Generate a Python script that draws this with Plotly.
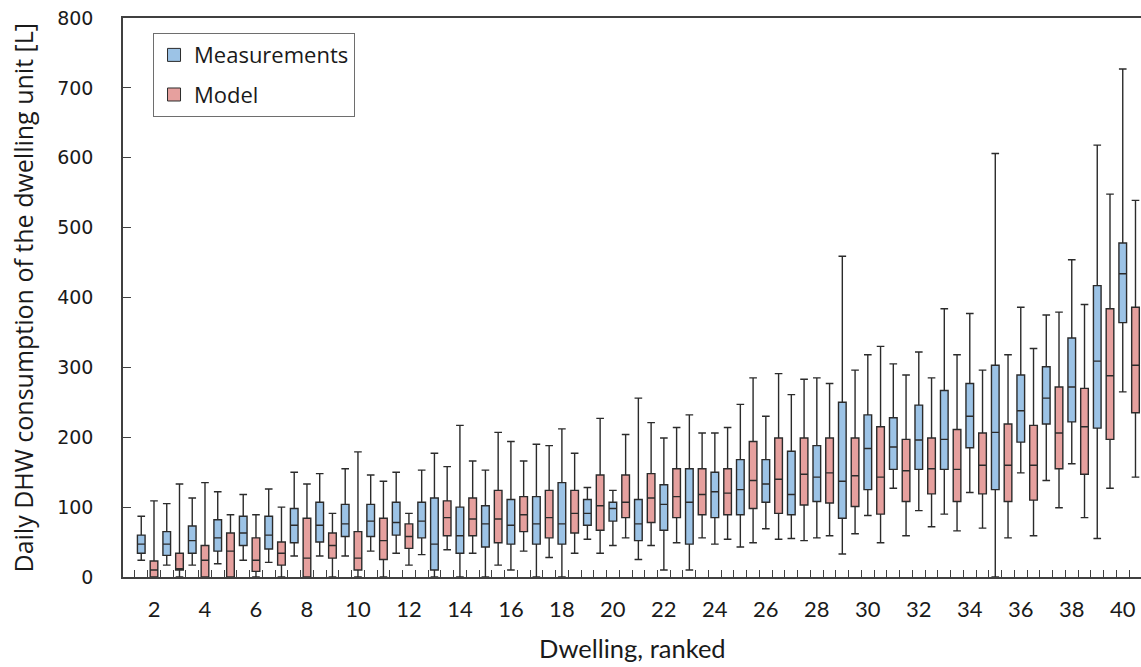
import plotly.graph_objects as go

# ---------------- data (L/day) ----------------
# rank positions of the boxes along the "Dwelling, ranked" axis
meas_pos = [1.5, 2.5, 3.5, 4.5, 5.5, 6.5, 7.5, 8.5, 9.5, 10.5, 11.5, 12.5,
            13, 14, 15, 16, 17, 18, 19, 20, 21, 22, 23, 24, 25, 26, 27, 28,
            29, 30, 31, 32, 33, 34, 35, 36, 37, 38, 39, 40]
model_pos = [2, 3, 4, 5, 6, 7, 8, 9, 10, 11, 12,
             13.5, 14.5, 15.5, 16.5, 17.5, 18.5, 19.5, 20.5, 21.5, 22.5, 23.5,
             24.5, 25.5, 26.5, 27.5, 28.5, 29.5, 30.5, 31.5, 32.5, 33.5, 34.5,
             35.5, 36.5, 37.5, 38.5, 39.5, 40.5]

# Measurements
meas_max = [87, 105, 113, 122, 118, 126, 150, 148, 155, 146, 150, 153,
            177, 217, 153, 194, 190, 212, 128, 124, 256, 199, 232, 206, 247, 230,
            261, 285, 459, 318, 305, 322, 384, 377, 606, 386, 375, 454, 618, 727]
meas_q3 = [60, 65, 73, 82, 87, 87, 98, 107, 104, 104, 107, 107,
           113, 100, 102, 111, 115, 135, 111, 107, 111, 132, 155, 150, 168, 168,
           180, 188, 250, 232, 228, 246, 267, 277, 303, 289, 301, 342, 417, 478]
meas_med = [47, 47, 52, 56, 63, 60, 74, 74, 76, 80, 78, 80,
            47, 59, 76, 74, 76, 76, 91, 98, 76, 104, 107, 122, 125, 133,
            118, 143, 137, 184, 186, 196, 197, 230, 207, 238, 256, 272, 309, 434]
meas_q1 = [34, 31, 34, 37, 45, 40, 49, 50, 58, 58, 60, 56,
           10, 34, 43, 47, 47, 47, 74, 80, 52, 67, 47, 85, 89, 107,
           89, 108, 84, 125, 154, 154, 154, 185, 125, 193, 219, 222, 213, 364]
meas_min = [24, 17, 17, 19, 24, 21, 30, 30, 30, 37, 34, 32,
            0, 0, 0, 10, 0, 0, 54, 45, 25, 10, 10, 47, 43, 69,
            55, 56, 33, 88, 127, 95, 90, 121, 0, 149, 138, 162, 55, 265]

# Model
model_max = [109, 133, 135, 89, 89, 100, 133, 91, 179, 137, 91,
             158, 166, 207, 166, 188, 177, 227, 204, 221, 214, 206, 214,
             285, 291, 283, 277, 296, 330, 289, 285, 318, 296, 318, 327,
             379, 390, 548, 539]
model_q3 = [23, 34, 45, 63, 56, 50, 84, 63, 65, 84, 76,
            109, 113, 124, 115, 124, 124, 146, 146, 148, 155, 155, 155,
            194, 199, 199, 199, 199, 215, 197, 199, 211, 206, 219, 217,
            272, 270, 384, 386]
model_med = [10, 12, 24, 37, 24, 34, 27, 45, 27, 52, 58,
             85, 83, 83, 89, 85, 91, 102, 107, 113, 115, 118, 120,
             138, 140, 147, 149, 145, 143, 152, 155, 154, 160, 160, 160,
             206, 215, 288, 303]
model_q1 = [0, 10, 0, 0, 8, 17, 0, 27, 10, 25, 41,
            59, 59, 49, 65, 56, 63, 67, 85, 78, 85, 89, 89,
            98, 91, 103, 106, 101, 90, 108, 119, 108, 119, 108, 110,
            155, 147, 197, 235]
model_min = [0, 0, 0, 0, 0, 0, 0, 0, 0, 0, 17,
             39, 34, 17, 37, 28, 34, 34, 56, 45, 49, 56, 54,
             49, 54, 52, 59, 62, 49, 59, 72, 66, 70, 56, 59,
             99, 85, 127, 143]

x_tick_vals = list(range(2, 41, 2))
y_tick_vals = list(range(0, 801, 100))

# ---------------- styling ----------------
BLUE = "#9cc3e6"
RED = "#e6a09e"
EDGE = "#2b2b2b"
AXIS = "#404040"

fig = go.Figure()

fig.add_trace(go.Box(
    x=meas_pos, q1=meas_q1, median=meas_med, q3=meas_q3,
    lowerfence=meas_min, upperfence=meas_max,
    width=0.3, whiskerwidth=1, boxpoints=False,
    fillcolor=BLUE, line=dict(color=EDGE, width=1.4),
    name="Measurements", showlegend=False, hoverinfo="skip"))

fig.add_trace(go.Box(
    x=model_pos, q1=model_q1, median=model_med, q3=model_q3,
    lowerfence=model_min, upperfence=model_max,
    width=0.3, whiskerwidth=1, boxpoints=False,
    fillcolor=RED, line=dict(color=EDGE, width=1.4),
    name="Model", showlegend=False, hoverinfo="skip"))

# legend swatches
fig.add_trace(go.Scatter(
    x=[None], y=[None], mode="markers", name="Measurements",
    legendgroup="a",
    marker=dict(symbol="square", size=13, color=BLUE,
                line=dict(color=EDGE, width=1))))
fig.add_trace(go.Scatter(
    x=[None], y=[None], mode="markers", name="Model",
    legendgroup="b",
    marker=dict(symbol="square", size=13, color=RED,
                line=dict(color=EDGE, width=1))))

fig.update_layout(
    width=1141, height=667,
    margin=dict(l=123, r=0, t=18, b=90, autoexpand=False),
    paper_bgcolor="white", plot_bgcolor="white",
    boxmode="overlay",
    font=dict(family="Open Sans", color="#1a1a1a"),
    legend=dict(
        x=0.0295, y=0.973, xanchor="left", yanchor="top",
        bgcolor="white", bordercolor="#6e6e6e", borderwidth=1,
        font=dict(family="Open Sans", size=22, color="#1a1a1a"),
        tracegroupgap=8, itemwidth=30),
    xaxis=dict(
        range=[0.784, 40.716], automargin=False,
        tickmode="array", tickvals=x_tick_vals,
        ticktext=[str(v) for v in x_tick_vals],
        ticks="", ticklabelstandoff=12, ticklabeloverflow="allow",
        tickfont=dict(family="Lato", size=22, color="#1a1a1a"),
        showline=True, linecolor=AXIS, linewidth=1.5, mirror=True,
        showgrid=False, zeroline=False,
        minor=dict(ticks="inside", ticklen=7, tickwidth=1, tickcolor=AXIS,
                   tickmode="linear", tick0=0.25, dtick=0.5, showgrid=False),
    ),
    yaxis=dict(
        range=[0, 800], automargin=False,
        tickmode="array", tickvals=y_tick_vals,
        ticks="inside", ticklen=8, tickcolor=AXIS, tickwidth=1,
        ticklabelstandoff=24, ticklabeloverflow="allow",
        tickfont=dict(family="DejaVu Sans", size=19, color="#1a1a1a"),
        showline=True, linecolor=AXIS, linewidth=1.5,
        showgrid=False, zeroline=False,
    ),
    annotations=[
        dict(text="Daily DHW consumption of the dwelling unit [L]",
             xref="paper", yref="paper", x=-0.0992, y=0.5,
             xanchor="center", yanchor="middle", textangle=-90,
             showarrow=False,
             font=dict(family="Open Sans", size=25, color="#1a1a1a")),
        dict(text="Dwelling, ranked",
             xref="paper", yref="paper", x=0.5, y=-0.127,
             xanchor="center", yanchor="middle", showarrow=False,
             font=dict(family="Lato", size=25.5, color="#1a1a1a")),
    ],
)

# remove the browser's default 8 px body margin so the figure sits at (0, 0)
fig.write_html("out.html", config={"displayModeBar": False},
               post_script="document.body.style.margin='0';")
